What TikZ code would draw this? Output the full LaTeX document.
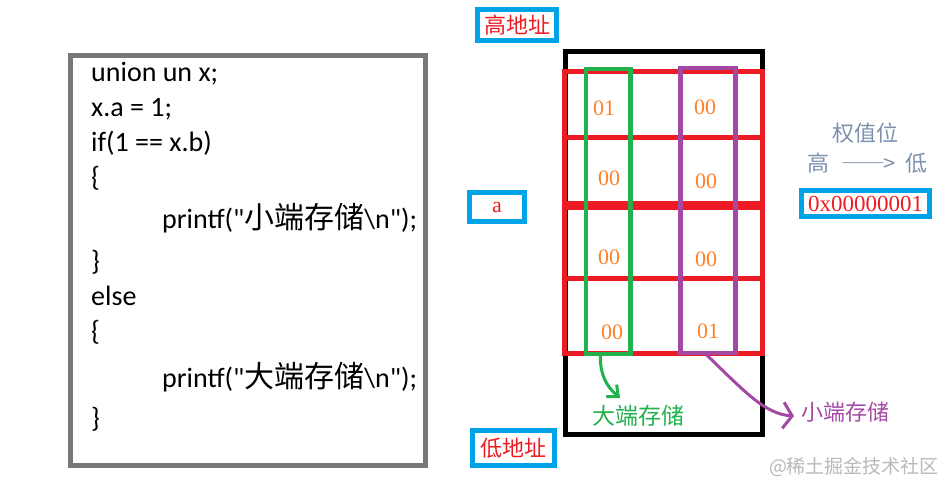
\documentclass[tikz,border=0pt]{standalone}
\usepackage{fontspec}
\newfontfamily\codefont{Carlito}
\newfontfamily\cjk{Noto Sans CJK SC}
\newfontfamily\serif{Liberation Serif}
\usetikzlibrary{arrows.meta,calc}

\definecolor{addrblue}{RGB}{0,162,232}
\definecolor{addrred}{RGB}{237,28,36}
\definecolor{bigend}{RGB}{34,177,76}
\definecolor{smallend}{RGB}{163,73,164}
\definecolor{digitorange}{RGB}{255,127,39}
\definecolor{weightgray}{RGB}{125,145,175}
\definecolor{framegray}{RGB}{120,120,120}

\tikzset{
  addrbox/.style={draw=addrblue, line width=5pt, inner sep=0pt, text=addrred,
                  font=\fontsize{22}{26}\selectfont\cjk},
  codeline/.style={anchor=base west, inner sep=0pt, font=\fontsize{28}{34}\selectfont\codefont},
  byte/.style={text=digitorange, font=\fontsize{22}{26}\selectfont\serif},
  column/.style={line width=4.5pt, inner sep=0pt, minimum width=#1, minimum height=285pt},
  handarrow/.style={line width=3pt, line cap=round, line join=round,
                    -{Straight Barb[length=9pt,width=#1,line width=3pt]}},
}

\begin{document}
\begin{tikzpicture}[x=1pt, y=-1pt]
\useasboundingbox (0,0) rectangle (951,493);

% code panel
\node[draw=framegray, line width=5pt, minimum width=355pt, minimum height=410pt] (codebox) at (247.5,260.5) {};

\foreach \codetext/\base [count=\i] in {
  {union un x;}/81,
  {x.a = 1;}/116,
  {if(1 == x.b)}/151.5,
  {\{}/186,
  {\hspace*{71pt}printf("{\fontsize{30}{34}\selectfont\cjk 小端存储}\textbackslash n");}/228,
  {\}}/270,
  {else}/305,
  {\{}/340,
  {\hspace*{71pt}printf("{\fontsize{30}{34}\selectfont\cjk 大端存储}\textbackslash n");}/387,
  {\}}/427}
  \node[codeline] (code\i) at (91,\base) {\codetext};

% memory layout
\node[draw=black, line width=5pt, minimum width=196.5pt, minimum height=383pt, inner sep=0pt] (mem) at (663.75,243) {};
\node[draw=addrred, line width=5pt, minimum width=198pt, minimum height=281.5pt, inner sep=0pt] (rows) at (663.5,212.25) {};
\draw[addrred, line width=5pt] (rows.west |- 0,137.5) -- (rows.east |- 0,137.5);
\draw[addrred, line width=9pt] (rows.west |- 0,205) -- (rows.east |- 0,205);
\draw[addrred, line width=5pt] (rows.west |- 0,278.5) -- (rows.east |- 0,278.5);

\node[draw=bigend, column=44.5pt] (bigcol) at (608.25,211.5) {};
\node[draw=smallend, column=55pt] (smallcol) at (708,210.5) {};

\node[byte] (b11) at (604,108) {01};
\node[byte] (b12) at (705,107) {00};
\node[byte] (b21) at (609,178) {00};
\node[byte] (b22) at (706,181) {00};
\node[byte] (b31) at (609,257) {00};
\node[byte] (b32) at (706,259) {00};
\node[byte] (b41) at (612,332) {00};
\node[byte] (b42) at (708,331) {01};

% address labels
\node[addrbox, minimum width=79pt, minimum height=31pt] (high) at (517,25) {高地址};
\node[addrbox, minimum width=55pt, minimum height=29pt, font=\fontsize{22}{26}\selectfont\serif] (var) at (497,207) {a};
\node[addrbox, minimum width=82pt, minimum height=35pt] (low) at (513.5,448) {低地址};

% weight
\node[text=weightgray, font=\fontsize{22}{26}\selectfont\cjk] (weight) at (865,133) {权值位};
\node[text=weightgray, font=\fontsize{22}{26}\selectfont\cjk] (order) at (867.5,163)
  {高\hspace{12pt}{\addfontfeatures{CharacterWidth=Full}——}\hspace{-2pt}>\hspace{10pt}低};
\node[addrbox, minimum width=128pt, minimum height=26pt, font=\fontsize{23}{26}\selectfont\serif] (hex) at (865.5,203.5) {0x00000001};

% endian labels
\node[text=bigend, font=\fontsize{23}{26}\selectfont\cjk] (biglabel) at (638,416) {大端存储};
\node[text=smallend, font=\fontsize{22}{26}\selectfont\cjk] (smalllabel) at (845,412) {小端存储};
\coordinate (bigtip) at (620,398);
\coordinate (smalltip) at (794,416);

\draw[handarrow=16pt, bigend] ([xshift=-8pt]bigcol.south) .. controls +(0,18) and (606,386) .. (bigtip);
\draw[handarrow=26pt, smallend] ([xshift=-1pt]smallcol.south) .. controls (745,392) and (765,414) .. (smalltip);

\node[text=black!28, font=\fontsize{19}{22}\selectfont\cjk] (mark) at (854,467) {@稀土掘金技术社区};
\end{tikzpicture}
\end{document}
